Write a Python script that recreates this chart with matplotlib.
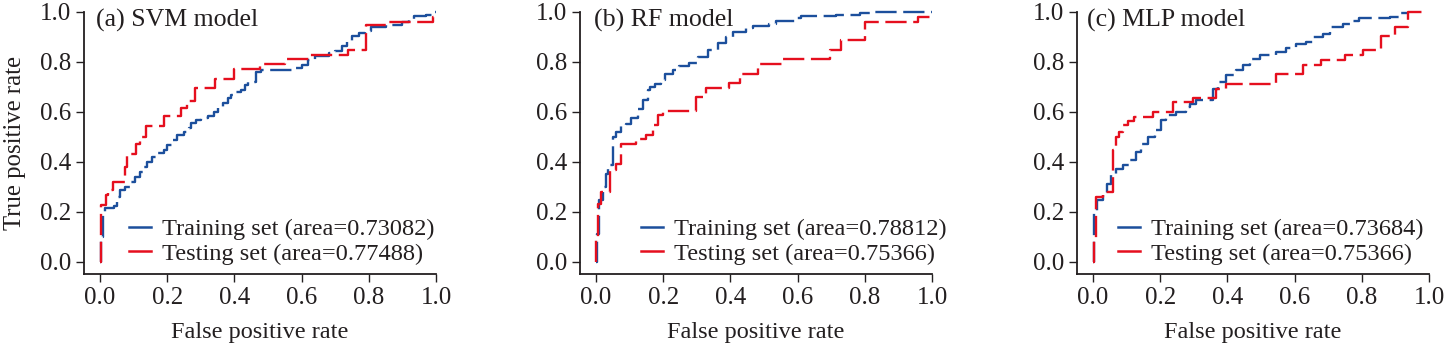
import matplotlib
matplotlib.use("Agg")
import matplotlib.pyplot as plt
from matplotlib.lines import Line2D

plt.rcParams['font.family'] = ['Liberation Serif', 'DejaVu Serif']
TXT = '#231f20'
BLUE = '#1c4f9c'
RED = '#e50f1e'

# ---- data: (fpr at step, tpr after step) ----
svm_train_fpr = [0, 0.004, 0.008, 0.015, 0.04, 0.05, 0.06, 0.075, 0.09, 0.105, 0.12, 0.13, 0.14, 0.155, 0.17, 0.19,
                 0.2, 0.215, 0.23, 0.25, 0.265, 0.27, 0.285, 0.3, 0.32, 0.34, 0.35, 0.365, 0.38, 0.39, 0.405, 0.42,
                 0.43, 0.44, 0.465, 0.48, 0.57, 0.6, 0.62, 0.64, 0.68, 0.7, 0.72, 0.735, 0.75, 0.77, 0.79, 0.805,
                 0.85, 0.9, 0.92, 0.935, 0.97, 0.99, 1.0]
svm_train_tpr = [0, 0.1, 0.2, 0.215, 0.225, 0.26, 0.29, 0.3, 0.32, 0.34, 0.36, 0.38, 0.40, 0.42, 0.435, 0.45,
                 0.47, 0.49, 0.51, 0.52, 0.535, 0.555, 0.57, 0.575, 0.585, 0.6, 0.62, 0.635, 0.655, 0.67, 0.68, 0.69,
                 0.71, 0.72, 0.76, 0.77, 0.775, 0.79, 0.81, 0.825, 0.835, 0.845, 0.865, 0.885, 0.905, 0.915, 0.925, 0.94,
                 0.95, 0.96, 0.97, 0.985, 0.99, 1.0, 1.0]
svm_test_fpr = [0, 0.003, 0.017, 0.024, 0.039, 0.073, 0.08, 0.108, 0.118, 0.138, 0.19, 0.242, 0.258, 0.282,
                0.342, 0.40, 0.476, 0.55, 0.625, 0.739, 0.793, 0.853, 0.99, 1.0]
svm_test_tpr = [0, 0.227, 0.267, 0.29, 0.32, 0.38, 0.434, 0.474, 0.50, 0.545, 0.585, 0.618, 0.645, 0.697,
                0.734, 0.772, 0.792, 0.812, 0.83, 0.848, 0.948, 0.961, 0.98, 0.98]

rf_train_fpr = [0, 0.003, 0.01, 0.02, 0.03, 0.035, 0.05, 0.06, 0.075, 0.09, 0.104, 0.124, 0.139, 0.154, 0.159,
                0.174, 0.194, 0.204, 0.228, 0.248, 0.278, 0.303, 0.333, 0.362, 0.387, 0.407, 0.447, 0.467, 0.516,
                0.536, 0.596, 0.61, 0.715, 0.785, 0.82, 1.0]
rf_train_tpr = [0, 0.113, 0.247, 0.3, 0.354, 0.387, 0.5, 0.52, 0.547, 0.554, 0.578, 0.614, 0.648, 0.688, 0.70,
                0.714, 0.728, 0.752, 0.768, 0.785, 0.798, 0.821, 0.85, 0.875, 0.90, 0.919, 0.935, 0.944, 0.952,
                0.964, 0.975, 0.983, 0.99, 0.996, 1.0, 1.0]
rf_test_fpr = [0, 0.0, 0.005, 0.015, 0.04, 0.06, 0.075, 0.119, 0.149, 0.169, 0.184, 0.199, 0.298, 0.328, 0.397,
               0.427, 0.482, 0.556, 0.695, 0.73, 0.8, 0.958, 1.0]
rf_test_tpr = [0, 0.087, 0.234, 0.28, 0.367, 0.394, 0.471, 0.491, 0.507, 0.547, 0.587, 0.603, 0.661, 0.697, 0.717,
               0.754, 0.792, 0.812, 0.848, 0.888, 0.961, 0.981, 0.981]

mlp_train_fpr = [0, 0.003, 0.011, 0.03, 0.04, 0.054, 0.069, 0.088, 0.108, 0.128, 0.143, 0.163, 0.183, 0.203, 0.217,
                 0.247, 0.277, 0.287, 0.307, 0.332, 0.356, 0.371, 0.396, 0.426, 0.446, 0.466, 0.496, 0.545, 0.575,
                 0.605, 0.635, 0.655, 0.684, 0.704, 0.744, 0.769, 0.793, 0.883, 0.913, 0.935]
mlp_train_tpr = [0, 0.2, 0.247, 0.267, 0.314, 0.347, 0.374, 0.387, 0.407, 0.44, 0.474, 0.50, 0.527, 0.567, 0.587,
                 0.601, 0.621, 0.634, 0.647, 0.65, 0.694, 0.721, 0.748, 0.768, 0.788, 0.814, 0.83, 0.841, 0.857,
                 0.874, 0.881, 0.901, 0.914, 0.941, 0.954, 0.965, 0.975, 0.981, 0.995, 1.0]
mlp_test_fpr = [0, 0.003, 0.01, 0.029, 0.059, 0.069, 0.078, 0.088, 0.103, 0.123, 0.178, 0.237, 0.297, 0.366, 0.396,
                0.545, 0.625, 0.679, 0.749, 0.803, 0.858, 0.898, 0.937, 0.982]
mlp_test_tpr = [0, 0.09, 0.26, 0.28, 0.447, 0.50, 0.52, 0.547, 0.565, 0.58, 0.6, 0.641, 0.657, 0.694, 0.714,
                0.754, 0.788, 0.808, 0.83, 0.848, 0.904, 0.941, 1.0, 1.0]

titles = ['(a) SVM model', '(b) RF model', '(c) MLP model']
train_auc = ['0.73082', '0.78812', '0.73684']
test_auc = ['0.77488', '0.75366', '0.75366']
ticks = [0.0, 0.2, 0.4, 0.6, 0.8, 1.0]
tick_labels = ['0.0', '0.2', '0.4', '0.6', '0.8', '1.0']

curves = [
    (svm_train_fpr, svm_train_tpr, svm_test_fpr, svm_test_tpr),
    (rf_train_fpr, rf_train_tpr, rf_test_fpr, rf_test_tpr),
    (mlp_train_fpr, mlp_train_tpr, mlp_test_fpr, mlp_test_tpr),
]

W, H = 1448, 344
fig = plt.figure(figsize=(W / 100, H / 100), dpi=100)

lefts = [84, 580, 1077]
title_x = [-0.012, -0.006, -0.018]
leg_x = [0.128, 0.173, 0.116]

for i in range(3):
    ax = fig.add_axes([lefts[i] / W, 1 - 274 / H, 352 / W, 262 / H])
    trx, trty, tex, tety = curves[i]
    ax.plot(trx, trty, drawstyle='steps-post', color=BLUE, lw=1.7, dashes=(9, 2.8), clip_on=False)
    ax.plot(tex, tety, drawstyle='steps-post', color=RED, lw=1.7, dashes=(9, 2.8), clip_on=False)
    ax.set_xlim(-0.048, 1.0)
    ax.set_ylim(-0.048, 1.0)
    for s in ['top', 'right']:
        ax.spines[s].set_visible(False)
    for s in ['left', 'bottom']:
        ax.spines[s].set_linewidth(1.3)
        ax.spines[s].set_color(TXT)
    ax.set_xticks(ticks, tick_labels)
    ax.set_yticks(ticks, tick_labels)
    ax.tick_params(direction='out', length=6, width=1.0, color=TXT, labelcolor=TXT,
                   labelsize=18, pad=3)
    ax.set_xlabel('False positive rate', fontsize=17.5, color=TXT, labelpad=10)
    if i == 0:
        ax.set_ylabel('True positive rate', fontsize=17.8, color=TXT, labelpad=10)
    ax.text(title_x[i], 0.94, titles[i], fontsize=18.6, color=TXT, ha='left', va='baseline')
    handles = [Line2D([], [], color=BLUE, lw=1.8), Line2D([], [], color=RED, lw=1.8)]
    labels = ['Training set (area=%s)' % train_auc[i], 'Testing set (area=%s)' % test_auc[i]]
    leg = ax.legend(handles, labels, loc='center left', bbox_to_anchor=(leg_x[i], 0.124),
                    frameon=False, fontsize=17.6, handlelength=0.9, handletextpad=0.45,
                    borderpad=0, borderaxespad=0, labelspacing=0.1)
    for t in leg.get_texts():
        t.set_color(TXT)

fig.savefig('out.png', dpi=100)
